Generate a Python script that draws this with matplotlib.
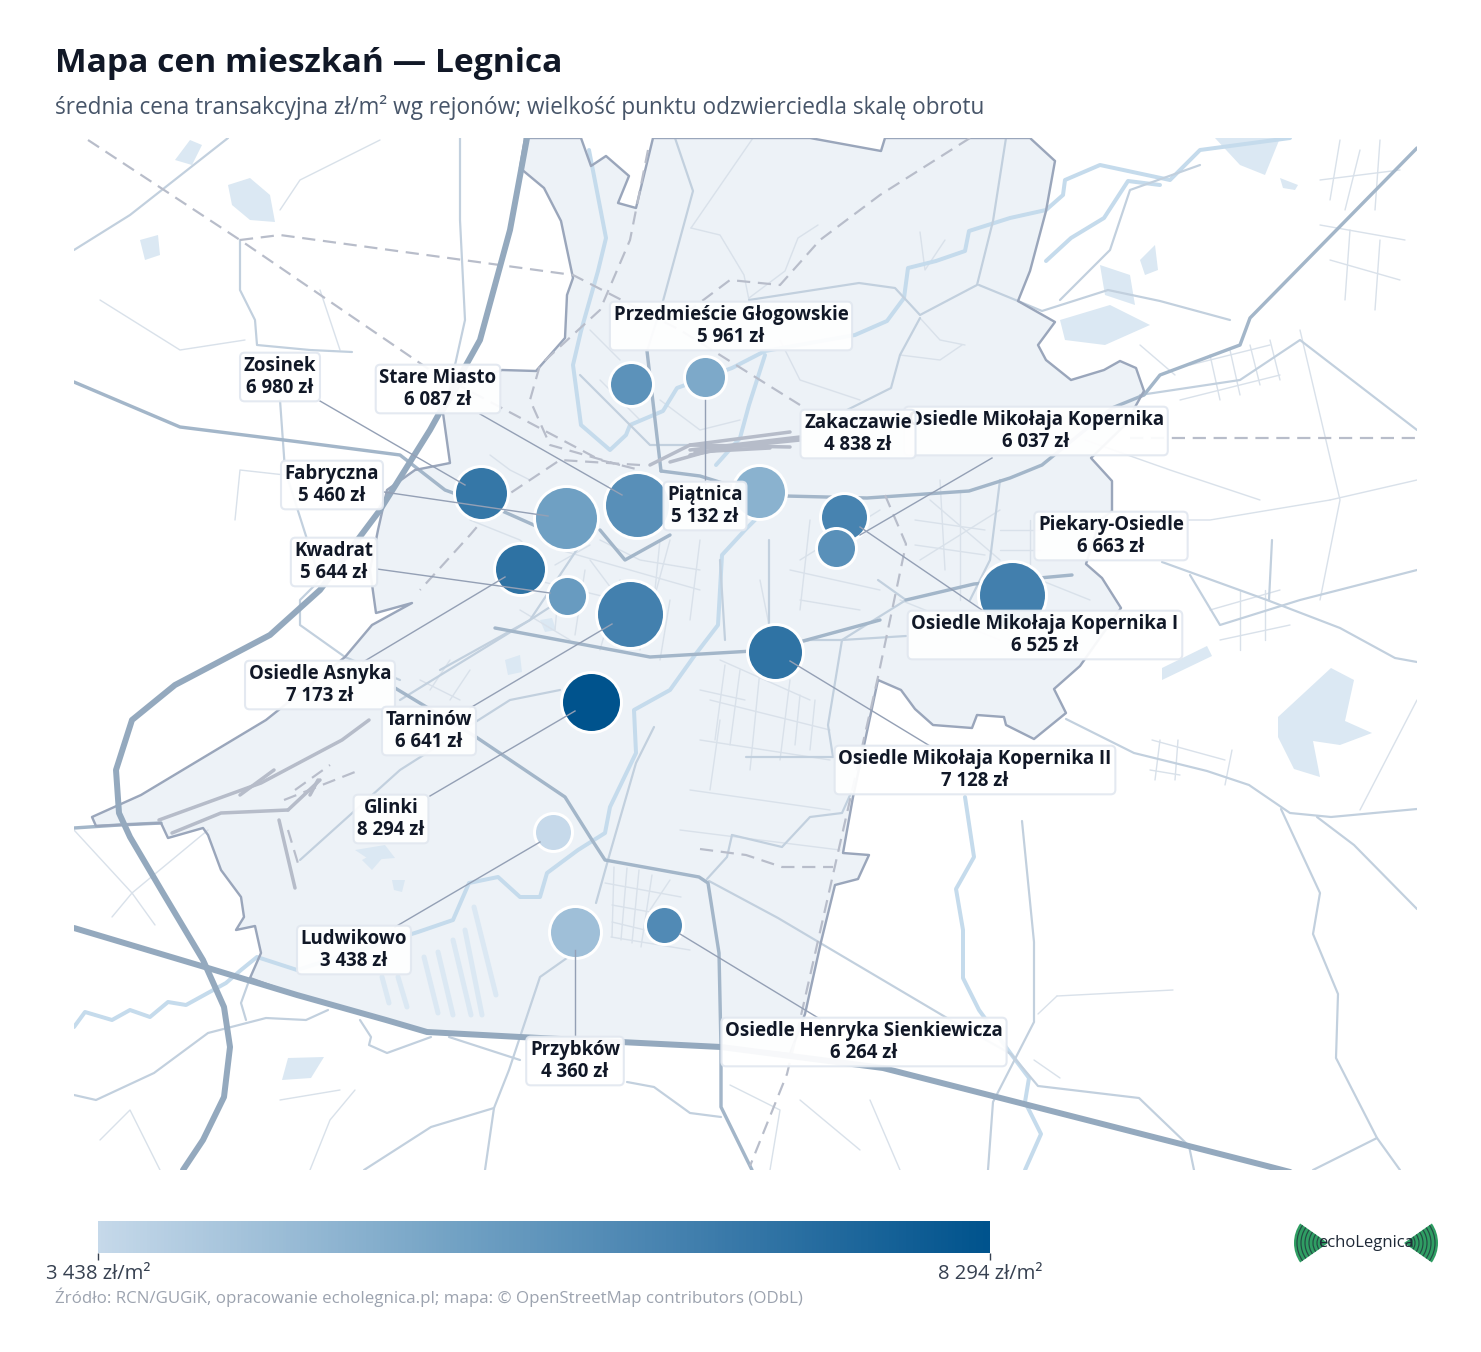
import matplotlib
matplotlib.use("Agg")
import numpy as np
import matplotlib.pyplot as plt
from matplotlib.colors import LinearSegmentedColormap, Normalize
from matplotlib.patches import Polygon, Wedge

plt.rcParams['font.family'] = ['Open Sans', 'DejaVu Sans']

# ---------- data ----------
districts = ["Zosinek", "Fabryczna", "Stare Miasto", "Przedmieście Głogowskie", "Piątnica", "Zakaczawie",
             "Osiedle Mikołaja Kopernika", "Osiedle Mikołaja Kopernika I", "Piekary-Osiedle",
             "Osiedle Mikołaja Kopernika II", "Kwadrat", "Osiedle Asnyka", "Tarninów", "Glinki",
             "Ludwikowo", "Przybków", "Osiedle Henryka Sienkiewicza"]
prices = [6980, 5460, 6087, 5961, 5132, 4838, 6037, 6525, 6663, 7128, 5644, 7173, 6641, 8294, 3438, 4360, 6264]
turnover_radius = [27, 32, 33, 22, 21, 27, 20, 24, 34, 28, 20, 26, 34, 30, 19, 26, 19]
point_x = [481, 566, 637, 631, 705, 759, 836, 844, 1012, 775, 567, 520, 630, 591, 553, 575, 664]
point_y = [493, 518, 505, 384, 377, 492, 548, 517, 595, 652, 596, 569, 614, 702, 832, 932, 925]
label_x = [280, 332, 438, 731, 705, 858, 1036, 1045, 1111, 975, 334, 320, 429, 391, 354, 575, 864]
label_y = [377, 485, 389, 326, 506, 434, 431, 635, 536, 770, 562, 685, 731, 819, 950, 1061, 1042]
leader_start = [(320, 401), (384, 492), (480, 414), None, (705, 400), None, (992, 458), (982, 610), None,
                (930, 746), (377, 569), (363, 662), (470, 708), (430, 796), (395, 927), (575, 1038), (820, 1019)]
leader_end = [(465, 485), (548, 516), (622, 495), None, (705, 484), None, (860, 535), (860, 527), None,
              (790, 661), (550, 593), (505, 577), (612, 624), (575, 711), (540, 842), (575, 950), (680, 934)]
point_order = [0, 1, 2, 3, 4, 5, 7, 6, 8, 9, 11, 10, 12, 13, 14, 15, 16]
label_order = [0, 2, 3, 6, 5, 1, 4, 8, 10, 7, 11, 12, 9, 13, 14, 15, 16]

title = "Mapa cen mieszkań — Legnica"
subtitle = "średnia cena transakcyjna zł/m² wg rejonów; wielkość punktu odzwierciedla skalę obrotu"
source = "Źródło: RCN/GUGiK, opracowanie echolegnica.pl; mapa: © OpenStreetMap contributors (ODbL)"
scale_min_label = "3 438 zł/m²"
scale_max_label = "8 294 zł/m²"

# ---------- basemap geometry (traced) ----------
city = [(525, 138), (520, 168), (544, 188), (561, 221), (573, 278), (567, 295), (565, 338), (536, 371), (502, 370),
        (460, 385), (443, 413), (450, 463), (415, 470), (387, 490), (378, 530), (370, 570), (376, 613), (412, 603),
        (372, 625), (345, 657), (266, 720), (141, 795), (92, 817), (96, 826), (119, 825), (161, 823), (168, 838),
        (203, 828), (208, 835), (221, 870), (241, 897), (244, 917), (236, 930), (255, 926), (261, 953), (250, 978),
        (297, 995), (386, 1020), (427, 1032), (520, 1037), (721, 1047), (790, 1054), (805, 1014), (821, 942), (835, 885),
        (858, 879), (869, 855), (843, 853), (853, 797), (878, 680), (901, 690), (915, 709), (933, 725), (972, 728),
        (977, 715), (1004, 717), (1006, 725), (1034, 739), (1066, 713), (1054, 689), (1080, 666), (1121, 608),
        (1102, 578), (1086, 564), (1100, 520), (1112, 511), (1112, 481), (1091, 458), (1125, 425), (1144, 391),
        (1136, 368), (1120, 361), (1104, 370), (1071, 380), (1046, 360), (1038, 345), (1055, 322), (1018, 301),
        (1030, 271), (1046, 211), (1055, 161), (1030, 138), (885, 138), (881, 151), (810, 138), (653, 138),
        (636, 208), (618, 203), (629, 176), (606, 156), (591, 166), (581, 138)]
lakes = [
    [(1278, 717), (1331, 668), (1354, 680), (1345, 721), (1372, 733), (1340, 745), (1313, 741), (1320, 777),
     (1294, 769), (1278, 737)],
    [(228, 185), (250, 178), (270, 195), (275, 222), (250, 220), (232, 205)],
    [(175, 160), (190, 140), (202, 145), (192, 165)],
    [(140, 240), (158, 235), (160, 255), (145, 260)],
    [(1215, 138), (1280, 138), (1265, 175), (1240, 165)],
    [(1100, 265), (1130, 275), (1135, 305), (1105, 295)],
    [(1140, 260), (1155, 245), (1158, 270), (1145, 275)],
    [(1060, 320), (1110, 305), (1150, 325), (1105, 345), (1065, 340)],
    [(1162, 668), (1207, 646), (1212, 656), (1162, 680)],
    [(505, 660), (520, 655), (522, 672), (508, 675)],
    [(282, 1080), (288, 1058), (324, 1057), (311, 1078)],
    [(1280, 178), (1298, 185), (1295, 190), (1283, 188)],
    [(540, 620), (552, 618), (556, 630), (545, 632)],
    [(362, 860), (380, 850), (385, 855), (372, 870)],
    [(355, 850), (385, 845), (395, 858), (370, 860)],
    [(392, 880), (405, 880), (402, 892), (394, 890)],
]
lake_strips = [[(382, 977), (389, 1003)], [(398, 977), (407, 1007)], [(424, 957), (438, 1013)],
               [(438, 952), (453, 1015)], [(453, 940), (471, 1015)], [(465, 930), (482, 1015)],
               [(474, 907), (496, 995)]]
rivers = [
    [(1290, 138), (1200, 150), (1170, 180), (1100, 165), (1065, 180), (1063, 195), (1046, 210), (1010, 218), (969, 231),
     (965, 251), (936, 261), (908, 268), (904, 298), (887, 321), (855, 335), (765, 351), (732, 368), (677, 388),
     (663, 411), (630, 425), (626, 435), (610, 450), (581, 425), (573, 365), (581, 331), (598, 271), (606, 238),
     (589, 150)],
    [(1160, 185), (1128, 181), (1104, 218), (1071, 238), (1046, 261)],
    [(765, 355), (749, 405), (740, 438), (716, 465)],
    [(770, 505), (745, 530), (722, 555), (718, 625), (695, 655), (670, 690), (634, 710), (636, 753), (610, 807),
     (605, 833), (578, 850), (547, 873), (540, 897), (520, 897), (498, 877), (469, 883), (453, 920), (418, 932),
     (297, 970), (257, 957), (241, 970), (226, 983), (186, 1005), (168, 1002), (150, 1017), (130, 1010), (112, 1020),
     (85, 1012), (74, 1027)],
    [(965, 797), (974, 857), (956, 889), (963, 930), (963, 978), (979, 1010), (1011, 1054), (1029, 1078), (1025, 1102),
     (1041, 1134), (1025, 1170)],
]
motorways = [
    [(527, 138), (510, 230), (480, 340), (430, 430), (380, 510), (320, 590), (270, 635), (175, 685), (132, 720),
     (116, 770), (119, 813), (130, 837), (163, 893), (203, 960), (224, 1007), (230, 1047), (224, 1097), (203, 1140),
     (183, 1170)],
    [(74, 928), (208, 968), (297, 995), (386, 1020), (427, 1032), (520, 1037), (721, 1047), (883, 1068), (1267, 1166),
     (1290, 1172)],
]
primary = [
    [(1417, 148), (1250, 318), (1240, 345), (1160, 375), (1144, 395), (1112, 408), (1042, 465), (1010, 478), (969, 491),
     (867, 498), (785, 496)],
    [(745, 490), (700, 476), (661, 471)],
    [(74, 382), (180, 427), (300, 442), (400, 455), (445, 490), (500, 510), (545, 530)],
    [(495, 628), (650, 657), (770, 650), (880, 620)],
    [(906, 600), (974, 584), (1072, 575)],
    [(476, 737), (565, 797), (592, 840), (605, 860), (699, 877), (708, 883), (719, 953), (721, 1047), (721, 1107),
     (752, 1170)],
    [(395, 688), (476, 737)],
    [(74, 828), (119, 825), (161, 823)],
    [(647, 351), (661, 471)],
    [(600, 530), (625, 560), (670, 535)],
]
secondary = [
    [(675, 138), (693, 191), (663, 301), (647, 351)],
    [(74, 250), (130, 215), (200, 160), (228, 138)],
    [(240, 240), (240, 290), (255, 320), (257, 345), (310, 350), (352, 352)],
    [(1066, 719), (1134, 753), (1207, 771), (1249, 785), (1290, 813), (1331, 817), (1417, 809)],
    [(1162, 562), (1267, 600), (1340, 628), (1395, 658), (1417, 662)],
    [(1281, 809), (1320, 893), (1313, 934), (1338, 994), (1336, 1058), (1377, 1138), (1400, 1170)],
    [(1317, 817), (1354, 845), (1417, 909)],
    [(1377, 1138), (1313, 1170)],
    [(1022, 821), (1034, 942), (1034, 1022), (993, 1102), (988, 1170)],
    [(709, 881), (778, 918), (947, 1018), (1011, 1054), (1038, 1086), (1139, 1098), (1189, 1146), (1194, 1170)],
    [(74, 1095), (96, 1100), (154, 1073), (208, 1033), (266, 1018), (306, 1020), (328, 1010)],
    [(431, 1037), (387, 1053), (369, 1045), (371, 1037), (360, 1020)],
    [(449, 1037), (520, 1060)],
    [(574, 953), (540, 977), (509, 1070), (494, 1108), (485, 1170)],
    [(494, 1108), (431, 1127), (364, 1170)],
    [(627, 1082), (654, 1087), (690, 1113), (721, 1117)],
    [(250, 978), (241, 1003), (246, 1020)],
    [(280, 400), (285, 470), (320, 580), (300, 600), (300, 625), (345, 657), (400, 680)],
    [(400, 700), (530, 620), (567, 596)],
    [(300, 860), (400, 770), (510, 700), (560, 690)],
    [(654, 727), (636, 763), (610, 853), (596, 903)],
    [(749, 300), (859, 283), (895, 288), (920, 315), (977, 285), (993, 221), (1006, 138)],
    [(920, 318), (900, 355), (891, 388), (847, 410)],
    [(979, 285), (1018, 301), (1042, 311), (1108, 290), (1160, 301), (1230, 320)],
    [(1140, 395), (1240, 380), (1300, 340), (1417, 430)],
    [(1200, 165), (1130, 190), (1110, 250), (1060, 300)],
    [(460, 138), (460, 220), (465, 320), (445, 410)],
    [(732, 835), (782, 847), (810, 817), (842, 813), (851, 793)],
    [(732, 835), (727, 857), (707, 879)],
    [(878, 580), (906, 600), (842, 640), (828, 725), (833, 757)],
    [(842, 640), (906, 636)],
    [(770, 650), (810, 640), (842, 640)],
    [(769, 540), (769, 628)],
    [(720, 560), (725, 640)],
    [(746, 757), (833, 757)],
    [(590, 530), (530, 620), (440, 670)],
    [(1272, 540), (1269, 600)],
    [(1000, 480), (990, 560), (970, 600)],
    [(580, 375), (650, 445), (705, 445)],
    [(1417, 570), (1300, 600), (1220, 625), (1190, 575)],
]
minor = [
    [(691, 228), (720, 235), (744, 275), (749, 300)], [(691, 228), (753, 138)], [(818, 225), (798, 238), (785, 271), (749, 298)],
    [(920, 232), (925, 270), (945, 240)], [(900, 355), (940, 360), (962, 345)], [(920, 318), (940, 340), (965, 345)],
    [(660, 400), (700, 430), (740, 420)], [(780, 340), (800, 380), (860, 400)], [(590, 330), (620, 360)], [(600, 380), (640, 420)],
    [(470, 520), (520, 540), (540, 560)], [(490, 455), (510, 470), (530, 480)], [(600, 540), (640, 560), (700, 570)],
    [(590, 560), (620, 600), (660, 600)], [(520, 610), (570, 640)], [(600, 650), (620, 580)], [(640, 650), (670, 540)],
    [(670, 600), (660, 660)], [(700, 540), (690, 620)], [(560, 550), (700, 590)], [(555, 565), (590, 545)], [(535, 580), (660, 610)],
    [(575, 635), (585, 570)], [(555, 630), (560, 575)], [(660, 540), (650, 640)],
    [(420, 680), (460, 700)], [(430, 690), (450, 660)], [(450, 700), (470, 670)],
    [(720, 660), (810, 700)], [(710, 700), (830, 730)], [(760, 670), (750, 770)], [(790, 680), (780, 760)],
    [(700, 740), (830, 760)], [(690, 790), (830, 810)], [(720, 720), (710, 790)], [(680, 830), (840, 850)],
    [(700, 690), (745, 700)], [(725, 665), (715, 740)], [(740, 670), (730, 745)], [(800, 695), (795, 745)], [(815, 700), (810, 750)],
    [(614, 867), (612, 937)], [(627, 868), (621, 940)], [(639, 870), (632, 943)], [(652, 875), (641, 947)], [(670, 880), (650, 910)],
    [(605, 883), (681, 897)], [(612, 905), (650, 912)], [(612, 922), (645, 930)], [(611, 937), (690, 950)],
    [(920, 560), (1000, 510)], [(930, 500), (1000, 560)], [(960, 490), (960, 600)], [(1000, 530), (1040, 530)],
    [(1000, 550), (1040, 550)], [(1030, 520), (1030, 570)], [(1040, 580), (1090, 600)], [(900, 600), (1000, 640)],
    [(880, 510), (800, 560)], [(810, 520), (800, 610)], [(790, 570), (880, 590)], [(940, 480), (945, 570)], [(915, 520), (985, 530)],
    [(915, 545), (985, 555)], [(800, 600), (860, 610)], [(760, 580), (770, 630)],
    [(1190, 365), (1270, 345)], [(1180, 400), (1280, 375)], [(1210, 355), (1220, 400)], [(1230, 350), (1240, 395)],
    [(1250, 345), (1260, 385)], [(1270, 340), (1280, 380)], [(1140, 345), (1175, 375)],
    [(1340, 140), (1330, 200)], [(1360, 150), (1345, 210)], [(1380, 140), (1375, 210)], [(1320, 180), (1400, 170)],
    [(1320, 225), (1405, 240)], [(1330, 260), (1400, 280)], [(1350, 230), (1345, 300)], [(1380, 240), (1375, 310)],
    [(1210, 610), (1280, 590)], [(1220, 640), (1290, 625)], [(1240, 590), (1240, 650)], [(1265, 590), (1265, 640)],
    [(1152, 740), (1225, 760)], [(1150, 770), (1180, 775)], [(1160, 740), (1155, 780)], [(1178, 740), (1175, 780)], [(1232, 750), (1225, 785)],
    [(1330, 500), (1417, 480)], [(1300, 330), (1340, 500), (1320, 600)], [(1417, 700), (1360, 810)],
    [(74, 830), (132, 893), (155, 925)], [(112, 917), (132, 893), (208, 830)],
    [(1057, 996), (1173, 990)], [(1057, 996), (1038, 1014)],
    [(1034, 1060), (1060, 1078)], [(870, 1100), (900, 1170)], [(800, 1100), (860, 1150)], [(730, 1085), (780, 1110), (770, 1170)],
    [(330, 480), (240, 470), (235, 520)], [(320, 290), (340, 350)], [(100, 300), (180, 350), (245, 340)],
    [(380, 140), (300, 180), (280, 210)], [(1085, 440), (1170, 470), (1260, 500)], [(1130, 520), (1210, 520), (1330, 500)],
    [(280, 1100), (340, 1090)], [(100, 1140), (130, 1110), (160, 1170)], [(310, 1170), (330, 1120), (355, 1090)],
]
railways = [
    [(88, 140), (240, 240), (430, 370), (515, 415), (600, 460), (640, 470)],
    [(240, 240), (280, 235), (573, 275), (680, 330), (800, 405)],
    [(1130, 438), (1417, 438)],
    [(970, 138), (880, 195), (820, 240), (780, 285), (730, 280), (690, 310)],
    [(648, 150), (630, 240), (600, 310), (540, 365), (530, 400), (550, 445), (620, 465)],
    [(885, 495), (906, 544), (878, 677), (837, 857), (800, 1020), (787, 1074), (750, 1166)],
    [(640, 465), (560, 460), (500, 500), (470, 535), (420, 590)],
    [(700, 849), (746, 855), (782, 867), (833, 867)],
    [(284, 800), (360, 770)], [(295, 790), (330, 765)], [(288, 830), (300, 870)],
]
rail_yard = [[(650, 465), (690, 445), (790, 432)], [(670, 462), (720, 448), (800, 440)], [(690, 455), (745, 445)],
             [(690, 445), (790, 447)], [(690, 450), (800, 437)], [(695, 452), (770, 448)],
             [(172, 833), (221, 813), (288, 810)], [(159, 820), (261, 783), (342, 740), (369, 720)],
             [(240, 795), (274, 770)], [(279, 820), (295, 888)], [(288, 810), (320, 780)], [(310, 795), (318, 780)]]
logo_radii = [7, 11, 15, 19, 23, 27, 31]

# ---------- styles ----------
fig = plt.figure(figsize=(14.81, 13.52), dpi=100, facecolor="white")
W, H = 1481, 1352
def fig_ax(x0, y0, x1, y1):
    return fig.add_axes([x0 / W, 1 - y1 / H, (x1 - x0) / W, (y1 - y0) / H])
PX = 0.72

ax = fig_ax(74, 138, 1417, 1170)
ax.set_xlim(74, 1417)
ax.set_ylim(1170, 138)
ax.axis("off")

def draw_lines(lines, color, width, z, **kw):
    for ln in lines:
        xs, ys = zip(*ln)
        ax.plot(xs, ys, color=color, lw=width * PX, zorder=z, solid_capstyle="round", solid_joinstyle="round", **kw)

ax.add_patch(Polygon(city, closed=True, facecolor="#edf2f7", edgecolor="none", zorder=1))
for lk in lakes:
    ax.add_patch(Polygon(lk, closed=True, facecolor="#dbe8f3", edgecolor="none", zorder=2))
draw_lines(lake_strips, "#dbe8f3", 5, 2)
draw_lines(minor, "#d9e1ea", 1.4, 3)
draw_lines(rivers, "#c5dbec", 4, 3)
draw_lines(secondary, "#c2d0de", 2.2, 4)
draw_lines(primary, "#a3b6c9", 3.4, 5)
xs, ys = zip(*(city + city[:1]))
ax.plot(xs, ys, color="#9aa6bb", lw=2.4 * PX, zorder=6, solid_joinstyle="round")
draw_lines(rail_yard, "#b6bcc9", 3.5, 6)
for ln in railways:
    xs, ys = zip(*ln)
    ax.plot(xs, ys, color="#b8bdca", lw=2.2 * PX, dashes=(6, 3.5), zorder=6)
draw_lines(motorways, "#94a9be", 6, 7)

cmap = LinearSegmentedColormap.from_list(
    "price", [(0.0, "#c6d9ea"), (0.416, "#6fa0c3"), (0.66, "#4380ae"), (1.0, "#00538d")])
norm = Normalize(min(prices), max(prices))

for z, i in enumerate(point_order):
    ax.scatter([point_x[i]], [point_y[i]], s=[(2 * turnover_radius[i] * PX) ** 2], c=[prices[i]], cmap=cmap, norm=norm,
               edgecolors="white", linewidths=3 * PX, zorder=10 + z * 0.01)

for a, b in zip(leader_start, leader_end):
    if a is None:
        continue
    ax.plot([a[0], b[0]], [a[1], b[1]], color="#94a0b5", lw=1.4 * PX, zorder=11)

def fmt(v):
    return f"{v:,}".replace(",", " ") + " zł"

for k, i in enumerate(label_order):
    ax.text(label_x[i], label_y[i], f"{districts[i]}\n{fmt(prices[i])}", ha="center", va="center",
            fontsize=13.4, fontweight="bold", color="#111827", linespacing=1.08, zorder=20 + k,
            bbox=dict(boxstyle="round,pad=0.2,rounding_size=0.25", facecolor="white", alpha=0.93,
                      edgecolor="#e2e8f0", linewidth=1.5))

# titles
fig.text(55 / W, 1 - 63 / H, title, fontsize=24.1, fontweight="bold", color="#111827", va="center", ha="left")
fig.text(55 / W, 1 - 107 / H, subtitle, fontsize=16.3, color="#475569", va="center", ha="left")
fig.text(55 / W, 1 - 1297 / H, source, fontsize=12.2, color="#9ca3af", va="center", ha="left")

# colour scale
cax = fig_ax(98, 1221, 990, 1253)
cax.imshow(np.linspace(0, 1, 256)[None, :], aspect="auto", cmap=cmap, extent=(min(prices), max(prices), 0, 1))
cax.set_yticks([])
cax.set_xticks([min(prices), max(prices)])
cax.set_xticklabels([scale_min_label, scale_max_label], fontsize=14.6, color="#374151")
cax.tick_params(axis="x", length=5, width=1, color="#374151", pad=3)
for s in cax.spines.values():
    s.set_visible(False)

# logo
lax = fig_ax(1290, 1218, 1442, 1268)
lax.set_xlim(1290, 1442)
lax.set_ylim(1268, 1218)
lax.axis("off")
for cx, t1, t2 in [(1328, 145, 215), (1404, -35, 35)]:
    lax.add_patch(Wedge((cx, 1243), 34, t1, t2, facecolor="#2f9e63", edgecolor="none"))
    for r in logo_radii:
        lax.add_patch(Wedge((cx, 1243), r + 0.6, t1, t2, width=1.2, facecolor="#1f2937", edgecolor="none", alpha=0.7))
lax.text(1366, 1243, "echoLegnica", ha="center", va="center", fontsize=12, color="#1f2937")

fig.savefig("out.png", dpi=100, facecolor="white")
